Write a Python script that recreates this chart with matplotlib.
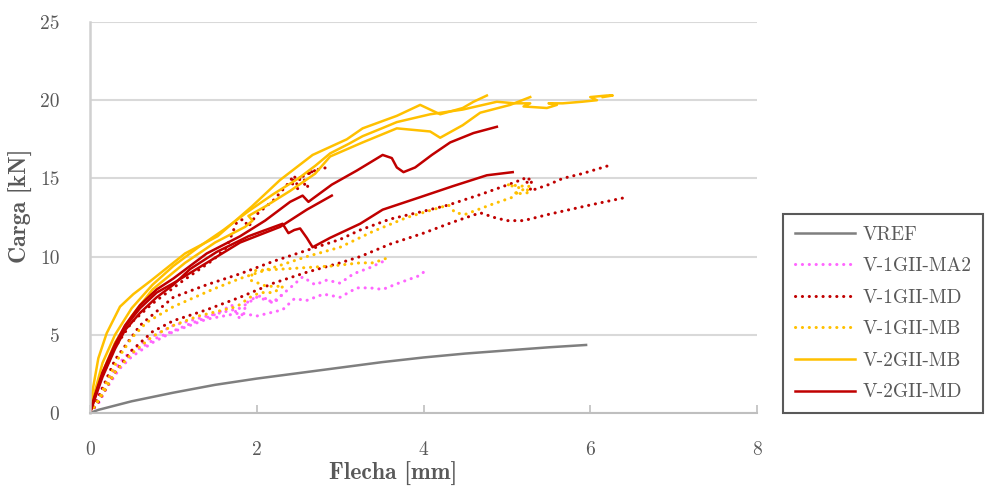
import matplotlib
matplotlib.use("Agg")
import matplotlib.pyplot as plt

# ---------------------------------------------------------------
# Load-deflection curves (Flecha [mm], Carga [kN])
# ---------------------------------------------------------------
vref_x = [0, 0.1, 0.5, 1.0, 1.5, 2.0, 2.5, 3.0, 3.5, 4.0, 4.5, 5.0, 5.5, 5.95]
vref_y = [0, 0.2, 0.75, 1.3, 1.8, 2.2, 2.55, 2.9, 3.25, 3.55, 3.8, 4.0, 4.2, 4.35]

# V-1GII-MA2 (three specimens)
ma2_a_x = [0, 0.1, 0.2, 0.35, 0.5, 0.75, 1.0, 1.4, 1.8, 2.0, 2.31, 2.45, 2.6, 2.8, 3.0, 3.2, 3.36, 3.51, 3.7, 3.96, 4.0]
ma2_a_y = [0, 0.6, 1.6, 2.8, 3.6, 4.5, 5.2, 6.0, 6.4, 6.2, 6.6, 7.3, 7.2, 7.6, 7.4, 8.0, 8.0, 7.9, 8.3, 8.8, 9.0]
ma2_b_x = [0, 0.1, 0.2, 0.35, 0.5, 0.75, 1.0, 1.4, 1.8, 2.0, 2.2, 2.4, 2.55, 2.7, 2.84, 3.0, 3.16, 3.36, 3.56]
ma2_b_y = [0, 0.9, 2.0, 3.2, 4.0, 4.9, 5.6, 6.2, 6.7, 7.4, 7.1, 8.0, 8.7, 8.2, 8.5, 8.3, 8.9, 9.3, 9.8]
ma2_c_x = [0, 0.1, 0.25, 0.5, 0.8, 1.2, 1.5, 1.7, 1.8, 1.9, 2.05, 2.2, 2.35]
ma2_c_y = [0, 1.2, 2.5, 3.8, 4.8, 5.7, 6.3, 6.9, 6.0, 7.2, 7.5, 7.0, 7.8]

# V-1GII-MD (three specimens)
md1_a_x = [0, 0.1, 0.3, 0.6, 1.0, 1.4, 1.8, 2.2, 2.6, 3.0, 3.24, 3.6, 4.0, 4.3, 4.7, 5.12, 5.2, 5.25, 5.22, 5.3, 5.28, 5.5, 5.67, 5.9, 6.21]
md1_a_y = [0, 1.0, 3.4, 5.6, 7.4, 8.2, 8.9, 9.7, 10.4, 11.1, 11.7, 12.4, 12.9, 13.3, 14.0, 14.8, 15.0, 14.7, 14.9, 15.0, 14.2, 14.6, 15.0, 15.3, 15.8]
md1_b_x = [0, 0.1, 0.3, 0.5, 0.75, 1.0, 1.4, 1.8, 2.2, 2.6, 3.0, 3.24, 3.6, 4.0, 4.35, 4.68, 4.85, 5.0, 5.2, 5.5, 6.0, 6.44]
md1_b_y = [0, 0.7, 2.6, 4.0, 5.2, 5.9, 6.6, 7.4, 8.3, 9.0, 9.6, 10.0, 10.8, 11.5, 12.2, 12.8, 12.5, 12.3, 12.3, 12.7, 13.3, 13.8]
md1_c_x = [0, 0.1, 0.3, 0.5, 0.75, 1.1, 1.48, 1.64, 1.76, 1.84, 1.9, 2.0, 2.2, 2.35, 2.45, 2.5, 2.4, 2.55, 2.62, 2.5, 2.7, 2.6, 2.75, 2.85]
md1_c_y = [0, 1.8, 4.2, 5.8, 7.0, 8.4, 9.8, 10.6, 12.2, 12.4, 11.9, 12.7, 13.6, 14.5, 15.2, 14.3, 14.8, 15.1, 14.4, 15.0, 15.5, 15.3, 15.6, 15.7]

# V-1GII-MB (two specimens)
mb1_a_x = [0, 0.1, 0.2, 0.35, 0.5, 0.68, 1.0, 1.47, 1.8, 2.2, 2.6, 3.0, 3.39, 3.8, 4.3, 4.38, 4.5, 4.8, 5.07, 5.15, 5.0, 5.2, 5.28, 5.1, 5.3]
mb1_a_y = [0, 0.8, 2.0, 3.6, 4.8, 5.8, 6.8, 7.9, 8.6, 9.3, 10.0, 10.6, 11.6, 12.5, 13.3, 12.8, 12.7, 13.3, 13.8, 14.4, 14.6, 14.5, 14.1, 14.0, 14.6]
mb1_b_x = [0, 0.15, 0.3, 0.5, 0.75, 1.0, 1.3, 1.76, 1.92, 2.04, 2.2, 2.32, 2.12, 1.92, 1.96, 2.3, 2.6, 2.9, 3.24, 3.4, 3.56]
mb1_b_y = [0, 1.2, 2.6, 3.8, 4.9, 5.6, 6.2, 6.8, 7.4, 7.7, 7.7, 8.1, 8.1, 8.5, 9.1, 9.2, 9.3, 9.4, 9.6, 9.6, 9.9]

# V-2GII-MB (three specimens)
mb2_a_x = [0, 0.02, 0.04, 0.1, 0.2, 0.36, 0.52, 0.74, 1.14, 1.53, 1.94, 2.28, 2.67, 3.08, 3.27, 3.68, 3.96, 4.2, 4.47, 4.6, 4.76]
mb2_a_y = [0, 1.0, 1.7, 3.5, 5.1, 6.8, 7.6, 8.5, 10.2, 11.3, 13.2, 14.9, 16.5, 17.5, 18.2, 19.0, 19.7, 19.1, 19.5, 19.9, 20.3]
mb2_b_x = [0, 0.05, 0.15, 0.3, 0.5, 0.75, 1.14, 1.5, 1.86, 1.95, 1.9, 2.1, 2.4, 2.7, 2.88, 3.27, 3.68, 4.08, 4.2, 4.47, 4.68, 5.04, 5.28]
mb2_b_y = [0, 0.8, 2.6, 4.5, 6.2, 7.9, 9.6, 10.9, 11.9, 12.3, 12.6, 13.2, 14.2, 15.3, 16.4, 17.3, 18.2, 18.0, 17.6, 18.4, 19.2, 19.7, 20.2]
mb2_c_x = [0, 0.05, 0.15, 0.3, 0.5, 0.75, 1.0, 1.3, 1.6, 1.9, 2.2, 2.5, 2.7, 2.88, 3.1, 3.27, 3.5, 3.68, 4.08, 4.47, 4.88, 5.1, 5.28, 5.2, 5.48, 5.6, 5.5, 5.67, 5.9, 6.08, 6.0, 6.2, 6.27, 6.15]
mb2_c_y = [0, 1.2, 3.2, 5.0, 6.7, 8.2, 9.4, 10.6, 11.7, 12.9, 14.0, 15.0, 15.8, 16.6, 17.2, 17.7, 18.2, 18.6, 19.1, 19.4, 19.9, 19.8, 19.8, 19.6, 19.5, 19.7, 19.8, 19.8, 19.9, 20.0, 20.2, 20.3, 20.3, 20.2]

# V-2GII-MD (three specimens)
md2_a_x = [0, 0.05, 0.15, 0.3, 0.42, 0.6, 0.8, 1.0, 1.4, 1.8, 2.1, 2.4, 2.55, 2.62, 2.67, 2.9, 3.2, 3.51, 3.62, 3.68, 3.76, 3.9, 4.1, 4.32, 4.6, 4.88]
md2_a_y = [0, 1.0, 2.6, 4.4, 5.6, 6.9, 7.9, 8.6, 10.2, 11.3, 12.3, 13.5, 13.9, 13.5, 13.7, 14.6, 15.5, 16.5, 16.3, 15.7, 15.4, 15.7, 16.5, 17.3, 17.9, 18.3]
md2_b_x = [0, 0.05, 0.15, 0.3, 0.42, 0.6, 0.8, 1.0, 1.4, 1.8, 2.28, 2.6, 2.9]
md2_b_y = [0, 0.9, 2.5, 4.3, 5.5, 6.7, 7.7, 8.3, 9.6, 10.9, 11.9, 13.0, 13.9]
md2_c_x = [0, 0.05, 0.15, 0.3, 0.42, 0.6, 0.8, 1.0, 1.2, 1.52, 1.9, 2.31, 2.38, 2.45, 2.52, 2.6, 2.67, 2.88, 3.24, 3.51, 3.96, 4.35, 4.76, 5.07]
md2_c_y = [0, 0.8, 2.3, 4.1, 5.3, 6.4, 7.4, 8.2, 9.2, 10.3, 11.3, 12.1, 11.5, 11.7, 11.8, 11.2, 10.6, 11.2, 12.1, 13.0, 13.8, 14.5, 15.2, 15.4]

x_ticks = [0, 2, 4, 6, 8]
y_ticks = [0, 5, 10, 15, 20, 25]

# ---------------------------------------------------------------
GREY = "#7F7F7F"
MAGENTA = "#FF66FF"
RED = "#C00000"
ORANGE = "#FFC000"
TEXT = "#595959"

plt.rcParams["font.family"] = ["cmr10", "DejaVu Serif"]
plt.rcParams["axes.formatter.use_mathtext"] = True

fig = plt.figure(figsize=(9.86, 4.94), dpi=100)
ax = fig.add_axes([90 / 986, 81 / 494, 667 / 986, 391 / 494])

dot = dict(linestyle=(0, (0.05, 2.2)), dash_capstyle="round", lw=2.2)
solid = dict(linestyle="-", lw=1.8, solid_joinstyle="round")

ax.plot(vref_x, vref_y, color=GREY, label="VREF", **solid)

ax.plot(ma2_a_x, ma2_a_y, color=MAGENTA, label="V-1GII-MA2", **dot)
ax.plot(ma2_b_x, ma2_b_y, color=MAGENTA, **dot)
ax.plot(ma2_c_x, ma2_c_y, color=MAGENTA, **dot)

ax.plot(md1_a_x, md1_a_y, color=RED, label="V-1GII-MD", **dot)
ax.plot(md1_b_x, md1_b_y, color=RED, **dot)
ax.plot(md1_c_x, md1_c_y, color=RED, **dot)

ax.plot(mb1_a_x, mb1_a_y, color=ORANGE, label="V-1GII-MB", **dot)
ax.plot(mb1_b_x, mb1_b_y, color=ORANGE, **dot)

ax.plot(mb2_a_x, mb2_a_y, color=ORANGE, label="V-2GII-MB", **solid)
ax.plot(mb2_b_x, mb2_b_y, color=ORANGE, **solid)
ax.plot(mb2_c_x, mb2_c_y, color=ORANGE, **solid)

ax.plot(md2_a_x, md2_a_y, color=RED, label="V-2GII-MD", **solid)
ax.plot(md2_b_x, md2_b_y, color=RED, **solid)
ax.plot(md2_c_x, md2_c_y, color=RED, **solid)

# axes styling
ax.set_xlim(0, 8)
ax.set_ylim(0, 25)
ax.set_xticks(x_ticks)
ax.set_yticks(y_ticks)
ax.set_xticklabels([str(v) for v in x_ticks])
ax.set_yticklabels([str(v) for v in y_ticks])
ax.yaxis.grid(True, color="#D9D9D9", lw=1.5, zorder=0)
ax.set_axisbelow(True)
for side in ("top", "right"):
    ax.spines[side].set_visible(False)
ax.spines["left"].set_color("#D0D0D0")
ax.spines["left"].set_linewidth(1.8)
ax.spines["bottom"].set_color("#BFBFBF")
ax.spines["bottom"].set_linewidth(1.5)
ax.tick_params(axis="x", direction="in", length=6, width=1.2, color="#BFBFBF",
               pad=20, labelsize=14, labelcolor=TEXT)
ax.tick_params(axis="y", length=0, pad=22, labelsize=14, labelcolor=TEXT)

ax.set_xlabel("Flecha [mm]", fontsize=17, color=TEXT, fontname="cmb10")
ax.set_ylabel("Carga [kN]", fontsize=17, color=TEXT, fontname="cmb10")
ax.xaxis.set_label_coords(0.455, -0.125)
ax.yaxis.set_label_coords(-0.085, 0.53)

leg = ax.legend(loc="lower left", bbox_to_anchor=(1.039, 0.0), borderaxespad=0,
                fontsize=14, labelcolor=TEXT, frameon=True, fancybox=False,
                framealpha=1, edgecolor=TEXT, handlelength=3.1,
                handletextpad=0.4, labelspacing=0.7, borderpad=0.6)
leg.get_frame().set_linewidth(1.5)

fig.savefig("out.png", dpi=100)
